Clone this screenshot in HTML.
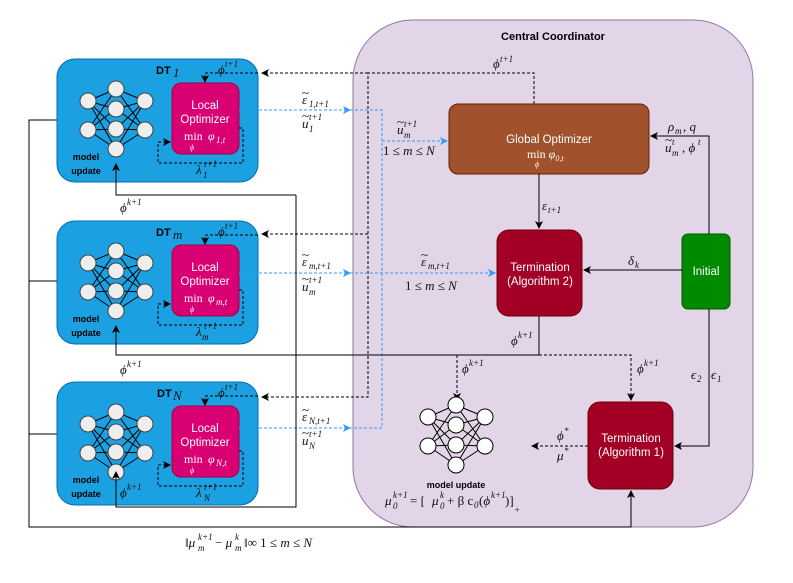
<!DOCTYPE html>
<html><head><meta charset="utf-8"><style>
body{margin:0;background:#fff;}
svg{display:block;font-family:"Liberation Sans",sans-serif;}
.m{font-family:"Liberation Serif",serif;font-style:italic;font-size:13px;fill:#111;}
.s{font-family:"Liberation Serif",serif;font-style:italic;font-size:9px;fill:#111;}
.n{font-family:"Liberation Serif",serif;font-size:13px;fill:#111;}
.w{fill:#fff;font-size:11.5px;text-anchor:middle;}
</style></head><body>
<svg width="793" height="583" viewBox="0 0 793 583" xmlns="http://www.w3.org/2000/svg">
<defs>
<marker id="a" markerWidth="8" markerHeight="8" refX="7" refY="4" orient="auto" markerUnits="userSpaceOnUse"><path d="M0,0 L8,4 L0,8 L2,4z" fill="#000"/></marker>
<marker id="b" markerWidth="8" markerHeight="8" refX="7" refY="4" orient="auto" markerUnits="userSpaceOnUse"><path d="M0,0 L8,4 L0,8 L2,4z" fill="#3399ff"/></marker>
<g id="nn">
<path stroke="#000" stroke-width="1" d="M-28,12 L0,0 M-28,12 L0,20 M-28,12 L0,40 M-28,12 L0,60 M-28,41 L0,0 M-28,41 L0,20 M-28,41 L0,40 M-28,41 L0,60 M29,12 L0,0 M29,12 L0,20 M29,12 L0,40 M29,12 L0,60 M29,41 L0,0 M29,41 L0,20 M29,41 L0,40 M29,41 L0,60"/>
</g>
</defs>
<rect x="353" y="20" width="400" height="507" rx="60" fill="#e1d5e7" stroke="#9673a6"/>
<text x="553" y="40" font-size="11" font-weight="bold" text-anchor="middle">Central Coordinator</text>

<path d="M76,120 H29 V527 H631 V491" fill="none" stroke="#000" marker-end="url(#a)"/>
<path d="M29,281 H76 M29,434 H76" stroke="#000" fill="none"/>

<g id="dt">
<rect x="57" y="59" width="201" height="123" rx="18" fill="#1ba1e2" stroke="#006eaf"/>
<rect x="172" y="83" width="67" height="71" rx="9" fill="#d80073" stroke="#a50040"/>
<text class="w" x="205" y="109">Local</text>
<text class="w" x="205" y="123">Optimizer</text>
<path d="M239,128 H243 V163 H158 V142 H170" fill="none" stroke="#000" stroke-dasharray="3,2" marker-end="url(#a)"/>
<path d="M258,73 H205 V82" fill="none" stroke="#000" stroke-dasharray="3,2" marker-end="url(#a)"/>
<g transform="translate(116,89)"><use href="#nn"/>
<g fill="#eee" stroke="#444"><circle cx="-28" cy="12" r="8"/><circle cx="-28" cy="41" r="8"/><circle cx="0" cy="0" r="8"/><circle cx="0" cy="20" r="8"/><circle cx="0" cy="40" r="8"/><circle cx="0" cy="60" r="8"/><circle cx="29" cy="12" r="8"/><circle cx="29" cy="41" r="8"/></g></g>
<text x="86" y="160" font-size="9" font-weight="bold" text-anchor="middle">model</text>
<text x="86" y="174" font-size="9" font-weight="bold" text-anchor="middle">update</text>
<text x="184" y="140" fill="#fff" font-family="Liberation Serif,serif" font-size="12">min</text>
<text x="190" y="150" fill="#fff" font-family="Liberation Serif,serif" font-size="8" font-style="italic">ϕ</text>
<text x="208" y="140" fill="#fff" font-family="Liberation Serif,serif" font-size="12" font-style="italic">φ</text>
<text x="196" y="174" class="m">λ</text>
<text x="204" y="167" class="s">t+1</text>
<text x="218" y="74" class="m" font-size="12">ϕ</text>
<text x="225" y="67" class="s">t+1</text>
</g>
<use href="#dt" transform="translate(0,162)"/>
<use href="#dt" transform="translate(0,323)"/>
<text x="156" y="74" font-size="11" font-weight="bold">DT</text><text class="m" x="173" y="77">1</text>
<text x="156" y="236" font-size="11" font-weight="bold">DT</text><text class="m" x="173" y="239">m</text>
<text x="157" y="397" font-size="11" font-weight="bold">DT</text><text class="m" x="173" y="400">N</text>
<g class="s" fill="#fff" style="fill:#fff">
<text x="216" y="143">1,t</text>
<text x="216" y="305">m,t</text>
<text x="216" y="466">N,t</text>
</g>
<g class="s"><text x="203" y="178">1</text><text x="202" y="340">m</text><text x="204" y="501">N</text></g>

<path d="M534,104 V73 H368 V397 H262" fill="none" stroke="#000" stroke-dasharray="3,2" marker-end="url(#a)"/>
<path d="M368,73 H262" fill="none" stroke="#000" stroke-dasharray="3,2" marker-end="url(#a)"/>
<path d="M368,234 H262" fill="none" stroke="#000" stroke-dasharray="3,2" marker-end="url(#a)"/>
<text class="m" x="493" y="68" font-size="12">ϕ</text><text class="s" x="500" y="62">t+1</text>

<g stroke="#3399ff" stroke-dasharray="3,2" fill="none">
<path d="M239,110 H350" marker-end="url(#b)"/>
<path d="M239,273 H350" marker-end="url(#b)"/>
<path d="M239,428 H350" marker-end="url(#b)"/>
<path d="M350,110 H382 V428 H350"/>
<path d="M382,141 H447" marker-end="url(#b)"/>
<path d="M350,273 H495" marker-end="url(#b)"/>
</g>

<!-- math labels: eps tilde / u tilde -->
<g>
<text class="m" x="302" y="104">ε</text><text class="n" x="302" y="97" font-size="10">~</text><text class="s" x="309" y="107">1,t+1</text>
<text class="m" x="302" y="128">u</text><text class="n" x="302" y="120" font-size="10">~</text><text class="s" x="309" y="120">t+1</text><text class="s" x="309" y="132">1</text>
<text class="m" x="302" y="266">ε</text><text class="n" x="302" y="259" font-size="10">~</text><text class="s" x="309" y="269">m,t+1</text>
<text class="m" x="302" y="291">u</text><text class="n" x="302" y="283" font-size="10">~</text><text class="s" x="309" y="283">t+1</text><text class="s" x="309" y="295">m</text>
<text class="m" x="302" y="421">ε</text><text class="n" x="302" y="414" font-size="10">~</text><text class="s" x="309" y="424">N,t+1</text>
<text class="m" x="302" y="445">u</text><text class="n" x="302" y="437" font-size="10">~</text><text class="s" x="309" y="437">t+1</text><text class="s" x="309" y="449">N</text>
<text class="m" x="397" y="134">u</text><text class="n" x="397" y="126" font-size="10">~</text><text class="s" x="404" y="127">t+1</text><text class="s" x="404" y="138">m</text>
<text class="m" x="421" y="266">ε</text><text class="n" x="421" y="259" font-size="10">~</text><text class="s" x="428" y="269">m,t+1</text>
</g>
<text class="n" x="383" y="155">1 ≤ <tspan font-style="italic">m</tspan> ≤ <tspan font-style="italic">N</tspan></text>
<text class="n" x="405" y="290">1 ≤ <tspan font-style="italic">m</tspan> ≤ <tspan font-style="italic">N</tspan></text>

<path d="M296,195 V507 H116 V472" fill="none" stroke="#000" marker-end="url(#a)"/>
<path d="M296,195 H116 V164" fill="none" stroke="#000" marker-end="url(#a)"/>
<path d="M539,316 V355 H116 V326" fill="none" stroke="#000" marker-end="url(#a)"/>
<g>
<text class="m" x="120" y="212">ϕ</text><text class="s" x="127" y="205">k+1</text>
<text class="m" x="120" y="374">ϕ</text><text class="s" x="127" y="367">k+1</text>
<text class="m" x="120" y="497">ϕ</text><text class="s" x="127" y="490">k+1</text>
<text class="m" x="511" y="345">ϕ</text><text class="s" x="518" y="338">k+1</text>
<text class="m" x="462" y="373">ϕ</text><text class="s" x="469" y="366">k+1</text>
<text class="m" x="637" y="373">ϕ</text><text class="s" x="644" y="366">k+1</text>
</g>
<path d="M457,355 V400" fill="none" stroke="#000" stroke-dasharray="3,2" marker-end="url(#a)"/>
<path d="M539,355 H631 V400" fill="none" stroke="#000" stroke-dasharray="3,2" marker-end="url(#a)"/>

<rect x="449" y="104" width="200" height="70" rx="9" fill="#a0522d" stroke="#6d1f00"/>
<text class="w" x="549" y="143">Global Optimizer</text>
<text x="527" y="158" fill="#fff" font-family="Liberation Serif,serif" font-size="12">min <tspan font-style="italic">φ</tspan><tspan font-style="italic" font-size="8" dy="3">0,t</tspan></text>
<text x="535" y="167" fill="#fff" font-family="Liberation Serif,serif" font-size="8" font-style="italic">ϕ</text>
<path d="M539,174 V228" stroke="#000" marker-end="url(#a)"/>
<text class="m" x="542" y="210" font-size="12">ε</text><text class="s" x="548" y="213">t+1</text>

<rect x="497" y="230" width="85" height="86" rx="12" fill="#a20025" stroke="#6f0000"/>
<text class="w" x="540" y="271">Termination</text>
<text class="w" x="540" y="285">(Algorithm 2)</text>

<rect x="682" y="234" width="48" height="75" rx="6" fill="#008a00" stroke="#005700"/>
<text class="w" x="706" y="275">Initial</text>
<path d="M709,234 V136 H651" fill="none" stroke="#000" marker-end="url(#a)"/>
<path d="M682,270 H584" fill="none" stroke="#000" marker-end="url(#a)"/>
<path d="M709,309 V446 H675" fill="none" stroke="#000" marker-end="url(#a)"/>
<text class="m" x="668" y="131">ρ</text><text class="s" x="675" y="134">m</text><text class="m" x="683" y="131">, q</text>
<text class="m" x="665" y="152">u</text><text class="n" x="665" y="144" font-size="10">~</text><text class="s" x="672" y="145">t</text><text class="s" x="672" y="156">m</text><text class="m" x="682" y="152">, ϕ</text><text class="s" x="698" y="145">t</text>
<text class="m" x="628" y="265">δ</text><text class="s" x="635" y="268">k</text>
<text class="m" x="691" y="379">ϵ</text><text class="s" x="697" y="382">2</text>
<text class="m" x="711" y="379">ϵ</text><text class="s" x="717" y="382">1</text>

<rect x="588" y="402" width="85" height="87" rx="12" fill="#a20025" stroke="#6f0000"/>
<text class="w" x="631" y="442">Termination</text>
<text class="w" x="631" y="456">(Algorithm 1)</text>
<path d="M588,446 H532" fill="none" stroke="#000" stroke-dasharray="3,2" marker-end="url(#a)"/>
<text class="m" x="557" y="440">ϕ</text><text class="s" x="564" y="434">*</text>
<text class="m" x="557" y="460">μ</text><text class="s" x="564" y="454">*</text>

<g transform="translate(456,405)"><use href="#nn"/>
<g fill="#fff" stroke="#000"><circle cx="-28" cy="12" r="8"/><circle cx="-28" cy="41" r="8"/><circle cx="0" cy="0" r="8"/><circle cx="0" cy="20" r="8"/><circle cx="0" cy="40" r="8"/><circle cx="0" cy="60" r="8"/><circle cx="29" cy="12" r="8"/><circle cx="29" cy="41" r="8"/></g></g>
<text x="456" y="488" font-size="9" font-weight="bold" text-anchor="middle">model update</text>
<g>
<text class="m" x="385" y="505">μ</text><text class="s" x="393" y="498">k+1</text><text class="s" x="393" y="509">0</text>
<text class="n" x="410" y="505">= [</text>
<text class="m" x="432" y="505">μ</text><text class="s" x="440" y="498">k</text><text class="s" x="440" y="509">0</text>
<text class="n" x="447" y="505">+ β c</text><text class="s" x="474" y="508">0</text>
<text class="n" x="479" y="505">(<tspan font-style="italic">ϕ</tspan></text><text class="s" x="491" y="498">k+1</text><text class="n" x="505" y="505">)]</text>
<text class="s" x="514" y="513">+</text>
</g>

<g>
<text class="n" x="185" y="547">‖<tspan font-style="italic">μ</tspan></text><text class="s" x="198" y="540">k+1</text><text class="s" x="198" y="551">m</text>
<text class="n" x="215" y="547">− <tspan font-style="italic">μ</tspan></text><text class="s" x="235" y="540">k</text><text class="s" x="235" y="551">m</text>
<text class="n" x="244" y="547">‖∞   1 ≤ <tspan font-style="italic">m</tspan> ≤ <tspan font-style="italic">N</tspan></text>
</g>
</svg>
</body></html>
